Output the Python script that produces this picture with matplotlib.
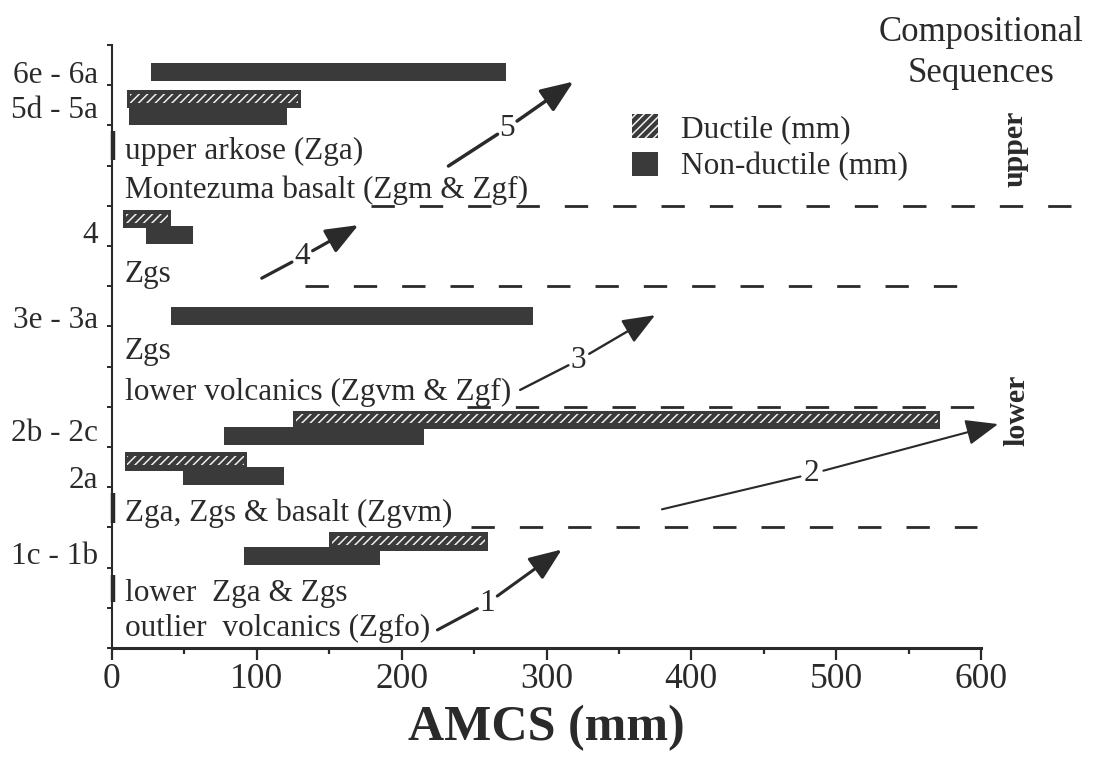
import matplotlib
matplotlib.use("Agg")
import matplotlib.pyplot as plt
from matplotlib.patches import Patch
from matplotlib.ticker import FixedLocator
import numpy as np

# ---------------- data ----------------
nd_y = [14.32, 13.24, 10.28, 8.27, 5.28, 4.27, 2.28]
nd_start = [26.7, 11.9, 23.3, 41.0, 77.0, 49.0, 91.0]
nd_end = [272.3, 120.7, 56.1, 290.9, 215.6, 118.5, 184.7]

d_y = [13.65, 10.67, 5.68, 4.64, 2.65]
d_start = [10.7, 7.7, 125.0, 8.7, 150.0]
d_end = [130.3, 40.5, 572.0, 93.4, 259.5]

group_labels = ['6e - 6a', '5d - 5a', '4', '3e - 3a', '2b - 2c', '2a', '1c - 1b']
group_label_y = [14.33, 13.46, 10.36, 8.24, 5.42, 4.26, 2.36]

unit_labels = ['upper arkose (Zga)', 'Montezuma basalt (Zgm & Zgf)', 'Zgs', 'Zgs',
               'lower volcanics (Zgvm & Zgf)', 'Zga, Zgs & basalt (Zgvm)',
               'lower  Zga & Zgs', 'outlier  volcanics (Zgfo)']
unit_label_y = [12.35, 11.39, 9.28, 7.37, 6.36, 3.36, 1.36, 0.49]

boundary_y = [11, 9, 6, 3]
boundary_start = [179, 133, 245, 248]
boundary_end = [668, 589, 596, 597]

bracket_lo = [12.13, 3.11, 1.14]
bracket_hi = [12.87, 3.86, 1.82]

arrow_labels = ['1', '2', '3', '4', '5']
arrow_start_x = [224.7, 379.7, 281.8, 103.4, 232.3]
arrow_start_y = [0.45, 3.45, 6.42, 9.20, 11.99]
arrow_mid_x = [259.0, 482.8, 322.0, 131.0, 272.6]
arrow_mid_y = [1.11, 4.33, 7.16, 9.73, 12.93]
arrow_tip_x = [310.5, 611.8, 375.0, 170.1, 318.6]
arrow_tip_y = [2.45, 5.57, 8.28, 10.52, 14.09]
arrow_lw = [2.2, 1.5, 1.7, 2.3, 2.5]

x_major = [0, 100, 200, 300, 400, 500, 600]
x_minor = [50, 150, 250, 350, 450, 550]
y_minor = list(range(16))

# ---------------- style ----------------
plt.rcParams['font.family'] = ['Liberation Serif', 'DejaVu Serif']
plt.rcParams['hatch.color'] = '#f0f0f0'
plt.rcParams['hatch.linewidth'] = 1.1
ink = '#2a2a2a'
barc = '#3a3a3a'
fs = 22.5

fig = plt.figure(figsize=(10.94, 7.6), dpi=100)
W, H = 1094, 760
ax = fig.add_axes([112 / W, 112 / H, (W - 112) / W, (648 - 45) / H])
ax.set_xlim(0, 678)
ax.set_ylim(0, 15)

bh = 0.45
ax.barh(nd_y, np.array(nd_end) - np.array(nd_start), left=nd_start, height=bh,
        color=barc, linewidth=0, zorder=2)
d_w = np.array(d_end) - np.array(d_start)
ax.barh(d_y, d_w, left=d_start, height=bh, color=barc, linewidth=0, zorder=3)
# inner band of white diagonal strokes
ax.barh(np.array(d_y) + 0.02, d_w - 4, left=np.array(d_start) + 2, height=bh * 0.5,
        color=barc, hatch='////', linewidth=0, zorder=3.5)

# boundaries
for y, x0, x1 in zip(boundary_y, boundary_start, boundary_end):
    ax.plot([x0, x1], [y, y], color=ink, lw=2.0, linestyle=(0, (8.4, 9.0)),
            solid_capstyle='butt', dash_capstyle='butt', clip_on=False, zorder=1)

# unit labels
for t, y in zip(unit_labels, unit_label_y):
    ax.text(9, y, t, fontsize=fs, color=ink, ha='left', va='center', zorder=4)

# brackets on the spine
ax.vlines([0.6] * len(bracket_lo), bracket_lo, bracket_hi, color=ink, lw=3.2,
          clip_on=False, zorder=5)

# arrows
for lab, sx, sy, mx, my, tx, ty, lw in zip(arrow_labels, arrow_start_x, arrow_start_y,
                                           arrow_mid_x, arrow_mid_y, arrow_tip_x,
                                           arrow_tip_y, arrow_lw):
    ax.annotate('', xy=(mx, my), xytext=(sx, sy),
                arrowprops=dict(arrowstyle='-', color=ink, lw=lw,
                                shrinkA=0, shrinkB=8), annotation_clip=False)
    ax.annotate('', xy=(tx, ty), xytext=(mx, my),
                arrowprops=dict(arrowstyle='-|>,head_length=1.0,head_width=0.4',
                                mutation_scale=20, color=ink, lw=lw,
                                shrinkA=9, shrinkB=0), annotation_clip=False)
    ax.text(mx, my, lab, fontsize=fs, color=ink, ha='center', va='center')

# axes styling
for s in ['top', 'right']:
    ax.spines[s].set_visible(False)
ax.spines['bottom'].set_bounds(0, 600)
ax.spines['bottom'].set_linewidth(2.2)
ax.spines['left'].set_linewidth(1.5)
ax.spines['bottom'].set_color(ink)
ax.spines['left'].set_color(ink)

ax.set_xticks(x_major)
ax.set_xticks(x_minor, minor=True)
ax.tick_params(axis='x', which='major', length=8.6, width=1.6, color=ink,
               labelsize=25.5, labelcolor=ink, pad=2)
ax.tick_params(axis='x', which='minor', length=4.3, width=1.6, color=ink)

ax.set_yticks(group_label_y, group_labels)
ax.yaxis.set_minor_locator(FixedLocator(y_minor))
ax.tick_params(axis='y', which='major', length=0, pad=10, labelsize=fs, labelcolor=ink)
ax.tick_params(axis='y', which='minor', length=3.6, width=1.4, color=ink)

# x label
fig.text(546 / W, 1 - 728 / H, 'AMCS (mm)', fontsize=36, fontweight='bold',
         color=ink, ha='center', va='center')

# header
fig.text(981 / W, 1 - 53 / H, 'Compositional\nSequences', fontsize=25, color=ink,
         ha='center', va='center', linespacing=1.35)

fig.text(1015 / W, 1 - 149 / H, 'upper', fontsize=21.5, fontweight='bold', color=ink,
         rotation=90, ha='center', va='center')
fig.text(1017 / W, 1 - 410 / H, 'lower', fontsize=21.5, fontweight='bold', color=ink,
         rotation=90, ha='center', va='center')

# legend
handles = [Patch(facecolor=barc, hatch='////', label='Ductile (mm)'),
           Patch(facecolor=barc, label='Non-ductile (mm)')]
fig.legend(handles=handles, loc='upper left', bbox_to_anchor=(632 / W, 1 - 114 / H),
           bbox_transform=fig.transFigure, frameon=False, fontsize=fs,
           handlelength=0.82, handleheight=0.8, handletextpad=0.75,
           labelspacing=0.25, borderpad=0, borderaxespad=0, labelcolor=ink)

fig.savefig('out.png', dpi=100)
